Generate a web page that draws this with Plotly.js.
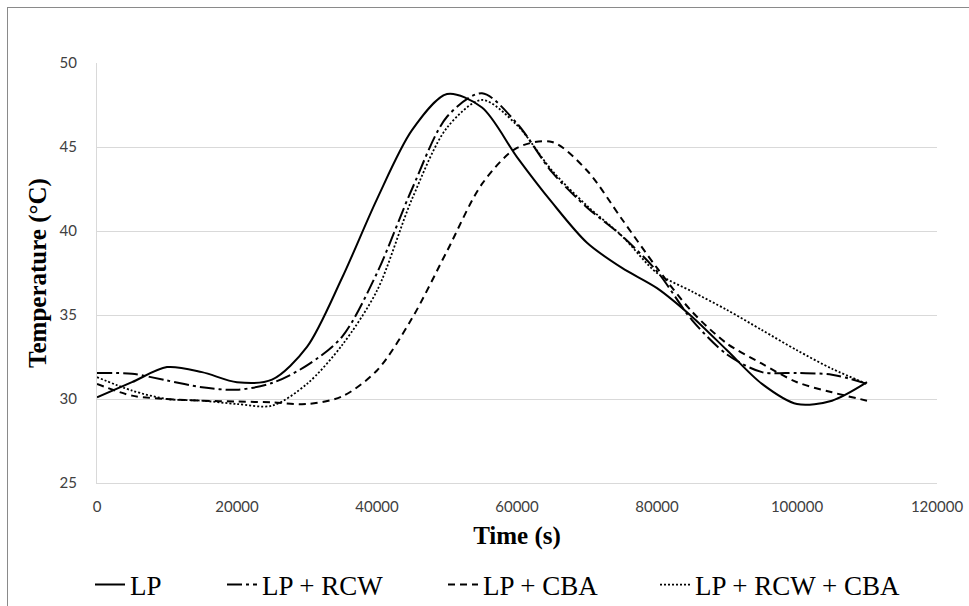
<!DOCTYPE html>
<html>
<head>
<meta charset="utf-8">
<script src="https://cdn.plot.ly/plotly-3.0.1.min.js"></script>
<style>
  html, body { margin: 0; padding: 0; background: #ffffff; }
  #wrap { position: relative; width: 969px; height: 606px; overflow: hidden; }
  #chart { position: absolute; left: 0; top: 0; width: 969px; height: 606px; }
  #frame { position: absolute; left: 7px; top: 7px; width: 980px; height: 620px;
           border-left: 1.5px solid #8a8a8a; border-top: 1.5px solid #8a8a8a; pointer-events: none; }
</style>
</head>
<body>
<div id="wrap">
  <div id="chart"></div>
  <div id="frame"></div>
</div>
<script>
// Time (s)
const time = [0, 5000, 10000, 15000, 20000, 25000, 30000, 35000, 40000, 45000, 50000, 55000,
              60000, 65000, 70000, 75000, 80000, 85000, 90000, 95000, 100000, 105000, 110000];

// Temperature (°C) per case
const lp        = [30.1, 31.0, 31.9, 31.6, 31.0, 31.15, 33.1, 37.2, 41.9, 46.0, 48.15, 47.35,
                   44.4, 41.7, 39.3, 37.8, 36.6, 34.9, 32.9, 30.9, 29.7, 29.9, 31.0];
const lpRcw     = [31.55, 31.5, 31.1, 30.7, 30.55, 30.95, 32.0, 33.7, 37.5, 42.5, 46.8, 48.2,
                   46.4, 43.5, 41.4, 39.7, 37.6, 34.7, 32.65, 31.6, 31.55, 31.45, 30.9];
const lpCba     = [30.9, 30.2, 30.0, 29.9, 29.85, 29.8, 29.7, 30.15, 31.7, 34.8, 38.8, 42.8,
                   44.95, 45.3, 43.6, 40.7, 37.8, 35.2, 33.3, 32.1, 31.0, 30.4, 29.9];
const lpRcwCba  = [31.3, 30.5, 30.0, 29.9, 29.7, 29.6, 30.9, 33.2, 36.45, 41.9, 46.15, 47.8,
                   46.3, 43.6, 41.5, 39.7, 37.5, 36.4, 35.3, 34.1, 32.9, 31.8, 30.9];

const seriesNames = ['LP', 'LP + RCW', 'LP + CBA', 'LP + RCW + CBA'];
const xTickVals = [0, 20000, 40000, 60000, 80000, 100000, 120000];
const yTickVals = [25, 30, 35, 40, 45, 50];

const legendFont = { family: 'Liberation Serif, Times New Roman, serif', size: 27, color: '#000000' };
const tickFont = { family: 'Lato, Calibri, sans-serif', size: 15, color: '#404040' };

function mk(y, name, dash, width, legendId) {
  return {
    x: time, y: y, name: name, type: 'scatter', mode: 'lines',
    line: { color: '#000000', width: width, dash: dash, shape: 'spline', smoothing: 0.85 },
    legend: legendId, hoverinfo: 'skip'
  };
}

const traces = [
  mk(lp, seriesNames[0], 'solid', 2, 'legend'),
  mk(lpRcw, seriesNames[1], '15px,4px,3px,4px', 2, 'legend2'),
  mk(lpCba, seriesNames[2], '7px,5px', 2, 'legend3'),
  mk(lpRcwCba, seriesNames[3], '2px,2px', 1.8, 'legend4')
];

function leg(px) {
  return {
    xref: 'container', yref: 'container', x: px / 969, y: 1 - 585 / 606,
    xanchor: 'left', yanchor: 'middle', orientation: 'h',
    font: legendFont, bgcolor: 'rgba(0,0,0,0)', borderwidth: 0, itemwidth: 30
  };
}

const layout = {
  width: 969, height: 606,
  margin: { l: 97, r: 32, t: 63, b: 123 },
  paper_bgcolor: '#ffffff', plot_bgcolor: '#ffffff',
  showlegend: true,
  legend: leg(90), legend2: leg(222), legend3: leg(443), legend4: leg(655),
  xaxis: {
    range: [0, 120000], tickvals: xTickVals, ticktext: xTickVals.map(String),
    showgrid: false, zeroline: false, showline: true, linecolor: '#d9d9d9', linewidth: 1,
    ticks: '', tickfont: tickFont, ticklabelstandoff: 10, automargin: false,
    title: { text: '<b>Time (s)</b>', font: { family: 'Liberation Serif, Times New Roman, serif', size: 25, color: '#000000' }, standoff: 12 }
  },
  yaxis: {
    range: [25, 50], tickvals: yTickVals, ticktext: yTickVals.map(String),
    showgrid: true, gridcolor: '#d9d9d9', gridwidth: 1, zeroline: false,
    showline: true, linecolor: '#d9d9d9', linewidth: 1,
    ticks: '', tickfont: tickFont, ticklabelstandoff: 16, automargin: false,
    title: { text: '<b>Temperature (°C)</b>', font: { family: 'Liberation Serif, Times New Roman, serif', size: 25, color: '#000000' }, standoff: 5 }
  }
};

Plotly.newPlot('chart', traces, layout, { displayModeBar: false, staticPlot: true });
</script>
</body>
</html>
